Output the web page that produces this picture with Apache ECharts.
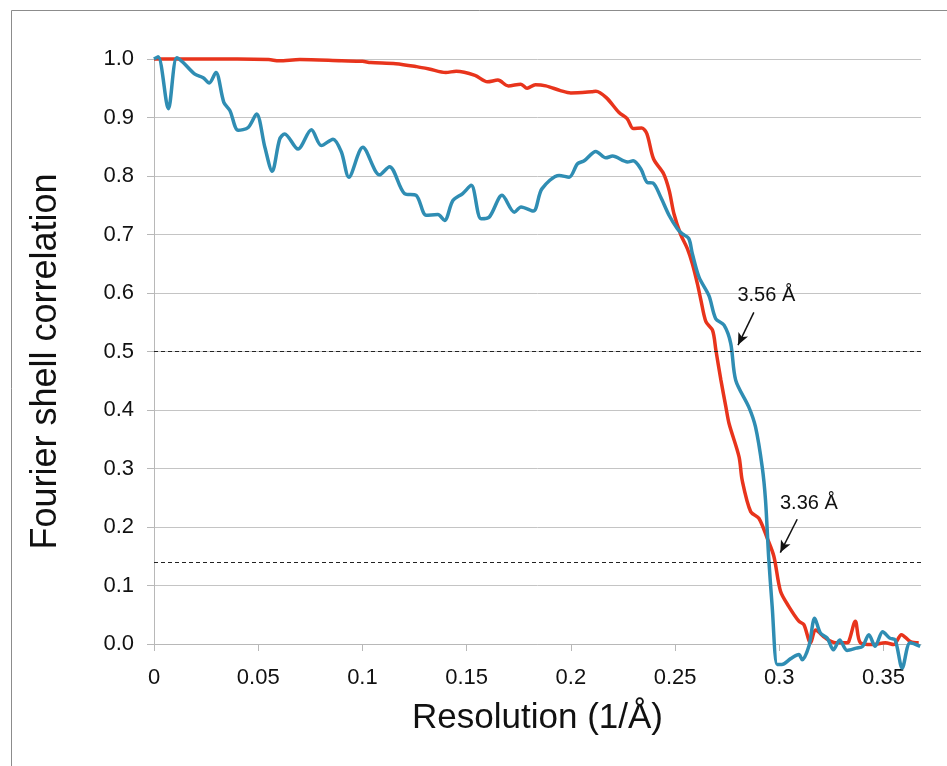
<!DOCTYPE html>
<html>
<head>
<meta charset="utf-8">
<script src="https://cdn.jsdelivr.net/npm/echarts@6/dist/echarts.min.js"></script>
<style>
  html, body { margin: 0; padding: 0; background: #fff; }
  #chart { width: 947px; height: 766px; }
</style>
</head>
<body>
<div id="chart"></div>
<script>
// red curve
var redX = [0, 0.02, 0.04, 0.055, 0.06, 0.07, 0.09, 0.1, 0.104, 0.116, 0.126, 0.132, 0.14, 0.145, 0.154,
  0.16, 0.165, 0.17, 0.176, 0.179, 0.183, 0.188, 0.195, 0.2, 0.21, 0.212, 0.217, 0.223, 0.227, 0.230,
  0.234, 0.2365, 0.2397, 0.2445, 0.2472, 0.2495, 0.2527, 0.2559, 0.2583, 0.2607, 0.2624, 0.2648, 0.268,
  0.2696, 0.272, 0.2744, 0.2759, 0.2807, 0.2822, 0.2863, 0.2902, 0.2942, 0.2974, 0.3006, 0.3046, 0.3094,
  0.3118, 0.315, 0.3174, 0.3222, 0.327, 0.3317, 0.3333, 0.3365, 0.3389, 0.3445, 0.3509, 0.3549, 0.3586,
  0.3629, 0.3669];
var redY = [1.0, 1.0, 1.0, 0.999, 0.997, 0.999, 0.997, 0.996, 0.994, 0.992, 0.987, 0.983, 0.977, 0.979, 0.972,
  0.961, 0.964, 0.954, 0.957, 0.950, 0.956, 0.954, 0.946, 0.942, 0.944, 0.945, 0.934, 0.909, 0.898, 0.881,
  0.882, 0.872, 0.829, 0.804, 0.775, 0.735, 0.700, 0.676, 0.650, 0.616, 0.588, 0.551, 0.536,
  0.502, 0.451, 0.405, 0.377, 0.320, 0.280, 0.226, 0.215, 0.181, 0.150, 0.090, 0.064, 0.039,
  0.033, 0.002, 0.024, 0.010, 0.002, 0.002, 0.004, 0.039, 0.002, -0.001, 0.002, -0.001, 0.016,
  0.004, 0.002];

// blue curve
var blueX = [0, 0.002, 0.0069, 0.0109, 0.014, 0.0196, 0.0236, 0.0265, 0.0297, 0.0335, 0.0364, 0.0404, 0.0452,
  0.0492, 0.0532, 0.0567, 0.0603, 0.0627, 0.0691, 0.0755, 0.0803, 0.0859, 0.0899, 0.0935, 0.1002, 0.1082,
  0.113, 0.1202, 0.1258, 0.1306, 0.1362, 0.1394, 0.1434, 0.1481, 0.1522, 0.1569, 0.1609, 0.167, 0.1729,
  0.1761, 0.182, 0.1861, 0.1944, 0.1992, 0.2032, 0.2064, 0.212, 0.2168, 0.22, 0.2272, 0.2299, 0.2336,
  0.2367, 0.2394, 0.2431, 0.2471, 0.2511, 0.2535, 0.2566, 0.2583, 0.2615, 0.2663, 0.2695, 0.2735, 0.2767,
  0.2791, 0.2854, 0.2886, 0.2918, 0.2934, 0.2949, 0.2966, 0.299, 0.3012, 0.3055, 0.3094, 0.311, 0.3142,
  0.317, 0.3197, 0.323, 0.326, 0.329, 0.3325, 0.337, 0.34, 0.343, 0.346, 0.3496, 0.353, 0.3556, 0.359,
  0.3628, 0.3676];
var blueY = [1.0, 1.004, 0.915, 1.002, 0.994, 0.974, 0.968, 0.959, 0.977, 0.926, 0.912, 0.878, 0.883,
  0.906, 0.849, 0.808, 0.863, 0.872, 0.846, 0.879, 0.852, 0.863, 0.841, 0.798, 0.849, 0.802,
  0.816, 0.770, 0.767, 0.733, 0.734, 0.724, 0.758, 0.770, 0.784, 0.727, 0.730, 0.767, 0.738,
  0.747, 0.740, 0.778, 0.801, 0.798, 0.821, 0.826, 0.842, 0.831, 0.834, 0.824, 0.826, 0.812,
  0.789, 0.788, 0.764, 0.733, 0.710, 0.701, 0.693, 0.667, 0.627, 0.595, 0.556, 0.545, 0.514,
  0.451, 0.405, 0.371, 0.303, 0.246, 0.149, 0.064, -0.035, -0.035, -0.025, -0.018, -0.027, -0.004,
  0.044, 0.019, 0.010, -0.010, 0.007, -0.011, -0.007, -0.004, 0.016, -0.004, 0.021, 0.010, 0.007, -0.041,
  0.002, -0.004];

var xTicks = [0, 0.05, 0.1, 0.15, 0.2, 0.25, 0.3, 0.35];
var thresholds = [0.5, 0.143];
var notes = ['3.56 Å', '3.36 Å'];
var notePos = [[0.2938, 0.596], [0.3142, 0.2406]];
var arrowFrom = [[0.2878, 0.567], [0.3086, 0.2133]];
var arrowTo = [[0.2802, 0.511], [0.3005, 0.1563]];

function zip(xs, ys) {
    var out = [];
    for (var i = 0; i < xs.length; i++) out.push([xs[i], ys[i]]);
    return out;
}

var font = 'Liberation Sans, Arial, sans-serif';
var grayLine = '#c4c4c4';

var myChart = echarts.init(document.getElementById('chart'));
myChart.setOption({
    animation: false,
    backgroundColor: '#fff',
    graphic: [{
        type: 'rect',
        shape: { x: 11.5, y: 10.5, width: 1000, height: 1000 },
        style: { fill: 'none', stroke: '#8c8c8c', lineWidth: 1 },
        silent: true
    }],
    grid: { left: 154, right: 26, top: 59, bottom: 122 },
    xAxis: {
        type: 'value',
        min: 0,
        max: 0.368,
        name: 'Resolution (1/Å)',
        nameLocation: 'middle',
        nameGap: 57,
        nameTextStyle: { fontFamily: font, fontSize: 35, color: '#111' },
        axisLine: { onZero: false, lineStyle: { color: '#b8b8b8', width: 1 } },
        axisTick: { show: true, length: 7, customValues: xTicks, lineStyle: { color: '#b8b8b8' } },
        axisLabel: {
            customValues: xTicks,
            margin: 23,
            fontFamily: font,
            fontSize: 22,
            color: '#111',
            formatter: function (v) { return String(v); }
        },
        splitLine: { show: false }
    },
    yAxis: {
        type: 'value',
        min: 0,
        max: 1,
        interval: 0.1,
        name: 'Fourier shell correlation',
        nameLocation: 'middle',
        nameGap: 90,
        nameTextStyle: { fontFamily: font, fontSize: 36, color: '#111', padding: [0, 20, 0, 0] },
        axisLine: { show: true, lineStyle: { color: '#b8b8b8', width: 1 } },
        axisTick: { show: true, length: 7, lineStyle: { color: '#b8b8b8' } },
        axisLabel: {
            margin: 20,
            fontFamily: font,
            fontSize: 22,
            color: '#111',
            formatter: function (v) { return v.toFixed(1); }
        },
        splitLine: { show: true, lineStyle: { color: grayLine, width: 1 } }
    },
    series: [
        {
            name: 'red',
            type: 'line',
            data: zip(redX, redY),
            showSymbol: false,
            smooth: 0.3,
            clip: false,
            lineStyle: { color: '#e8341c', width: 3.5 },
            z: 2
        },
        {
            name: 'blue',
            type: 'line',
            data: zip(blueX, blueY),
            showSymbol: false,
            smooth: 0.3,
            clip: false,
            lineStyle: { color: '#2f8db3', width: 3.5 },
            z: 3
        },
        {
            name: 'notes',
            type: 'line',
            data: [],
            z: 4,
            markLine: {
                silent: true,
                animation: false,
                symbol: ['none', 'none'],
                label: { show: false },
                lineStyle: { color: '#222', type: [4, 3], width: 1 },
                data: thresholds.map(function (t) { return { yAxis: t }; }).concat(
                    arrowFrom.map(function (p, i) {
                        return [
                            { coord: p, symbol: 'none', lineStyle: { type: 'solid', width: 1.5, color: '#111' } },
                            { coord: arrowTo[i], symbol: 'arrow', symbolSize: [8, 12] }
                        ];
                    })
                )
            },
            markPoint: {
                silent: true,
                symbol: 'circle',
                symbolSize: 0,
                label: {
                    show: true,
                    position: 'inside',
                    formatter: '{b}',
                    fontFamily: font,
                    fontSize: 20,
                    color: '#111'
                },
                data: notes.map(function (n, i) { return { name: n, coord: notePos[i] }; })
            }
        }
    ]
});
window.onresize = function () {
    myChart.resize();
};
</script>
</body>
</html>
